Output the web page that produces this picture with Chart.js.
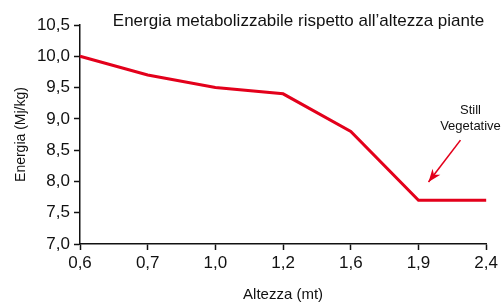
<!DOCTYPE html>
<html>
<head>
<meta charset="utf-8">
<script src="https://cdn.jsdelivr.net/npm/chart.js@4/dist/chart.umd.min.js"></script>
<style>
  html, body { margin: 0; padding: 0; background: #fff; }
  #wrap { width: 501px; height: 304px; }
</style>
</head>
<body>
<div id="wrap"><canvas id="energyChart"></canvas></div>
<script>
// data
const altezze = ['0,6', '0,7', '1,0', '1,2', '1,6', '1,9', '2,4'];
const energia = [10.0, 9.7, 9.5, 9.4, 8.8, 7.7, 7.7];
const yTicks = [7.0, 7.5, 8.0, 8.5, 9.0, 9.5, 10.0, 10.5];

const FONT = '"Liberation Sans", Arial, sans-serif';
const RED = '#e3001b';

// title + "Still Vegetative" note
const notePlugin = {
    id: 'notePlugin',
    afterDraw(chart) {
        const ctx = chart.ctx;
        const x = chart.scales.x;
        const y = chart.scales.y;
        const area = chart.chartArea;

        ctx.save();
        ctx.fillStyle = '#111';
        ctx.font = '17px ' + FONT;
        ctx.textAlign = 'right';
        ctx.textBaseline = 'middle';
        ctx.fillText('Energia metabolizzabile rispetto all\u2019altezza piante', area.right - 2, 21);

        // note text
        const bx = x.getPixelForValue(5);
        ctx.font = '13px ' + FONT;
        ctx.textAlign = 'center';
        ctx.fillText('Still', bx + 52, y.getPixelForValue(9.14));
        ctx.fillText('Vegetative', bx + 52, y.getPixelForValue(8.885));

        // arrow
        const x0 = bx + 42, y0 = y.getPixelForValue(8.66);
        const x1 = bx + 10, y1 = y.getPixelForValue(7.99);
        ctx.strokeStyle = RED;
        ctx.fillStyle = RED;
        ctx.lineWidth = 1.6;
        ctx.beginPath();
        ctx.moveTo(x0, y0);
        ctx.lineTo(x1, y1);
        ctx.stroke();
        const ang = Math.atan2(y1 - y0, x1 - x0);
        const len = 14, half = 0.36;
        ctx.beginPath();
        ctx.moveTo(x1, y1);
        ctx.lineTo(x1 - len * Math.cos(ang - half), y1 - len * Math.sin(ang - half));
        ctx.lineTo(x1 - len * 0.65 * Math.cos(ang), y1 - len * 0.65 * Math.sin(ang));
        ctx.lineTo(x1 - len * Math.cos(ang + half), y1 - len * Math.sin(ang + half));
        ctx.closePath();
        ctx.fill();
        ctx.restore();
    }
};

const ctx = document.getElementById('energyChart').getContext('2d');
const myChart = new Chart(ctx, {
    type: 'line',
    data: {
        labels: altezze,
        datasets: [{
            label: 'Energia',
            data: energia,
            borderColor: RED,
            borderWidth: 3,
            pointRadius: 0,
            tension: 0,
            fill: false
        }]
    },
    options: {
        responsive: true,
        maintainAspectRatio: false,
        animation: false,
        layout: {
            padding: { top: 25, right: 14, bottom: 0, left: 0 }
        },
        plugins: {
            legend: { display: false },
            tooltip: { enabled: false }
        },
        scales: {
            x: {
                offset: false,
                grid: {
                    display: true,
                    drawOnChartArea: false,
                    drawTicks: true,
                    tickLength: 6,
                    tickColor: '#111',
                    tickWidth: 1.5
                },
                border: { color: '#111', width: 1.5 },
                ticks: {
                    color: '#111',
                    font: { family: FONT, size: 17 },
                    padding: 3,
                    maxRotation: 0,
                    autoSkip: false
                },
                title: {
                    display: true,
                    text: 'Altezza (mt)',
                    color: '#111',
                    font: { family: FONT, size: 15 },
                    padding: { top: 9, bottom: 0 }
                },
                afterFit(scale) { scale.height = 60; }
            },
            y: {
                min: 7.0,
                max: 10.5,
                afterBuildTicks(scale) {
                    scale.ticks = yTicks.map(v => ({ value: v }));
                },
                grid: {
                    display: true,
                    drawOnChartArea: false,
                    drawTicks: true,
                    tickLength: 6,
                    tickColor: '#111',
                    tickWidth: 1.5
                },
                border: { color: '#111', width: 1.5 },
                ticks: {
                    color: '#111',
                    font: { family: FONT, size: 17 },
                    padding: 4,
                    callback: v => v.toFixed(1).replace('.', ',')
                },
                title: {
                    display: true,
                    text: 'Energia (Mj/kg)',
                    color: '#111',
                    font: { family: FONT, size: 14 },
                    padding: { top: 13, bottom: 0 }
                },
                afterFit(scale) { scale.width = 80; }
            }
        }
    },
    plugins: [notePlugin]
});
</script>
</body>
</html>
